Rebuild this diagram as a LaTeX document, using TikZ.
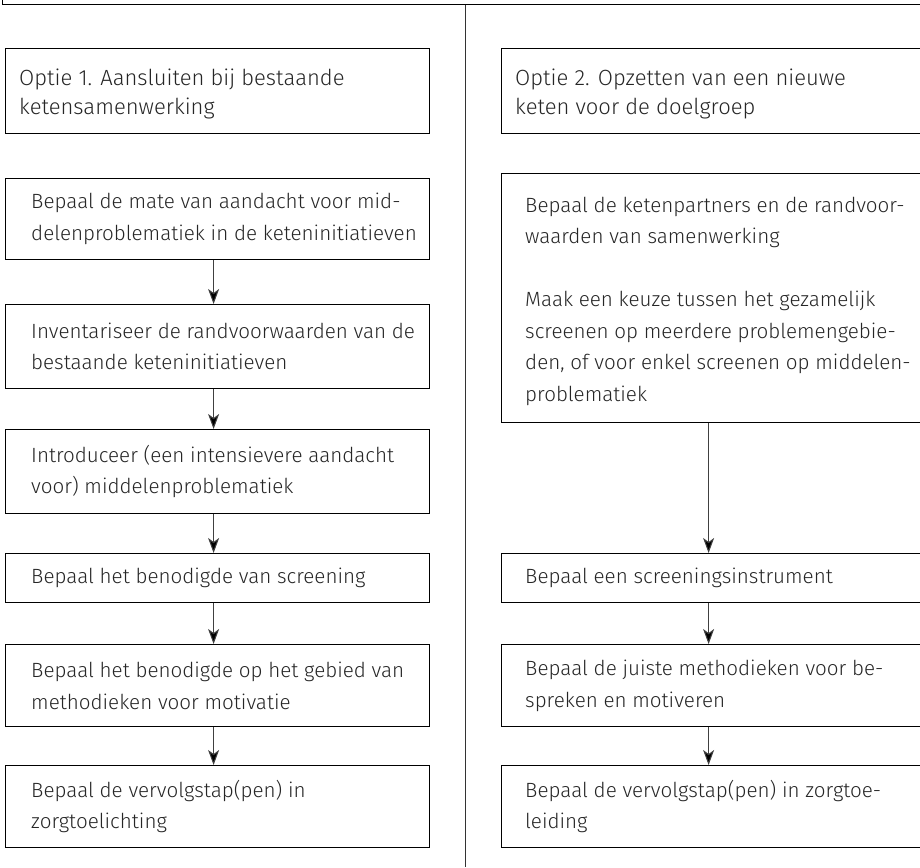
\documentclass[tikz,border=0pt]{standalone}
\usepackage{fontspec}
\setmainfont{Fira Sans Light}
\usetikzlibrary{arrows.meta}
\begin{document}
\begin{tikzpicture}[x=1pt,y=-1pt,
  frame/.style={draw=black,line width=1.2pt,anchor=north west,
    minimum width=424pt,inner sep=0pt},
  txt/.style={anchor=west,align=left,inner sep=0pt,text=black!85,
    font=\fontsize{20.6}{31.5}\selectfont},
  htxt/.style={txt,font=\fontsize{22}{29}\selectfont},
  arr/.style={draw=black!75,line width=1pt,-{Stealth[length=15pt,width=11pt,inset=4pt,fill=black]}},
  rule/.style={draw=black,line width=1pt}]
\useasboundingbox (0,0) rectangle (920,867);
\clip (0,0) rectangle (920,867);
\draw[rule] (2,0) -- (2,5) -- (920,5);
\draw[draw=black!80,line width=1pt] (465,5) -- (465,867);
% left column
\node[frame,minimum height=85pt] (lh) at (5,48) {};
\node[htxt] (lht) at ([xshift=14pt,yshift=-3pt]lh.west) {Optie 1. Aansluiten bij bestaande\\ketensamenwerking};
\node[frame,minimum height=81pt] (l1) at (5,178) {};
\node[txt] (l1t) at ([xshift=26pt]l1.west) {Bepaal de mate van aandacht voor mid-\\delenproblematiek in de keteninitiatieven};
\node[frame,minimum height=84pt] (l2) at (5,304) {};
\node[txt] (l2t) at ([xshift=26pt]l2.west) {Inventariseer de randvoorwaarden van de\\bestaande keteninitiatieven};
\node[frame,minimum height=84pt] (l3) at (5,429) {};
\node[txt] (l3t) at ([xshift=26pt]l3.west) {Introduceer (een intensievere aandacht\\voor) middelenproblematiek};
\node[frame,minimum height=49pt] (l4) at (5,553) {};
\node[txt] (l4t) at ([xshift=26pt]l4.west) {Bepaal het benodigde van screening};
\node[frame,minimum height=82pt] (l5) at (5,644) {};
\node[txt] (l5t) at ([xshift=26pt]l5.west) {Bepaal het benodigde op het gebied van\\methodieken voor motivatie};
\node[frame,minimum height=82pt] (l6) at (5,765) {};
\node[txt] (l6t) at ([xshift=26pt]l6.west) {Bepaal de vervolgstap(pen) in\\zorgtoelichting};
% right column
\node[frame,minimum height=85pt] (rh) at (501,48) {};
\node[htxt] (rht) at ([xshift=14pt,yshift=-3pt]rh.west) {Optie 2. Opzetten van een nieuwe\\keten voor de doelgroep};
\node[frame,minimum height=249pt] (r1) at (501,173) {};
\node[txt] (r1t) at ([xshift=24pt,yshift=-3pt]r1.west) {Bepaal de ketenpartners en de randvoor-\\waarden van samenwerking\\[31.5pt]Maak een keuze tussen het gezamelijk\\screenen op meerdere problemengebie-\\den, of voor enkel screenen op middelen-\\problematiek};
\node[frame,minimum height=49pt] (r2) at (501,553) {};
\node[txt] (r2t) at ([xshift=24pt]r2.west) {Bepaal een screeningsinstrument};
\node[frame,minimum height=82pt] (r3) at (501,644) {};
\node[txt] (r3t) at ([xshift=24pt]r3.west) {Bepaal de juiste methodieken voor be-\\spreken en motiveren};
\node[frame,minimum height=82pt] (r4) at (501,765) {};
\node[txt] (r4t) at ([xshift=24pt]r4.west) {Bepaal de vervolgstap(pen) in zorgtoe-\\leiding};
% arrows
\foreach \a/\b in {l1/l2,l2/l3,l3/l4,l4/l5,l5/l6}
  \draw[arr] ([xshift=-4pt]\a.south) -- ([xshift=-4pt]\b.north);
\foreach \a/\b in {r1/r2,r2/r3,r3/r4}
  \draw[arr] ([xshift=-5pt]\a.south) -- ([xshift=-5pt]\b.north);
\end{tikzpicture}
\end{document}
